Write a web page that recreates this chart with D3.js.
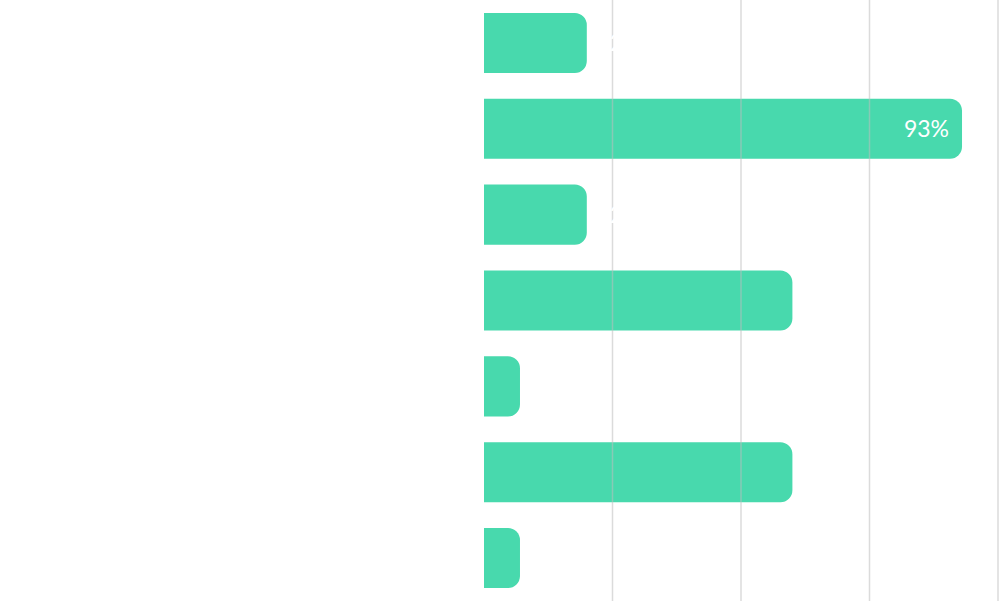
<!DOCTYPE html>
<html>
<head>
<meta charset="utf-8">
<script src="https://cdn.jsdelivr.net/npm/d3@7"></script>
<style>
  html, body { margin: 0; padding: 0; background: #ffffff; }
  svg { display: block; }
</style>
</head>
<body>
<svg id="chart" width="1000" height="601"></svg>
<script>
const categories = [
  "Lack of skilled workers",
  "Digital transformation",
  "Sustainability, environment and regulation",
  "Economic uncertainty",
  "Ongoing COVID-19 impact",
  "Supply chain disruptions",
  "Other"
];
const values = [20, 93, 20, 60, 7, 60, 7];
const gridTicks = [25, 50, 75, 100];

const width = 1000, height = 601;
const svg = d3.select("#chart");

const x = d3.scaleLinear().domain([0, 100]).range([484, 998]);
const y = d3.scaleBand().domain(categories).range([0, height])
  .paddingInner(0.3).paddingOuter(0.15);

const data = categories.map((c, i) => ({ c, v: values[i] }));
const r = 12;

function barPath(d) {
  const x0 = x(0), x1 = x(d.v), y0 = y(d.c), h = y.bandwidth();
  const rr = Math.min(r, (x1 - x0) / 2, h / 2);
  const p = d3.path();
  p.moveTo(x0, y0);
  p.lineTo(x1 - rr, y0);
  p.arcTo(x1, y0, x1, y0 + rr, rr);
  p.lineTo(x1, y0 + h - rr);
  p.arcTo(x1, y0 + h, x1 - rr, y0 + h, rr);
  p.lineTo(x0, y0 + h);
  p.closePath();
  return p.toString();
}

svg.append("g").selectAll("path").data(data).join("path")
  .attr("d", barPath)
  .attr("fill", "#48d9ad");

// gridlines drawn over the bars
svg.append("g").selectAll("line").data(gridTicks).join("line")
  .attr("x1", d => x(d)).attr("x2", d => x(d))
  .attr("y1", 0).attr("y2", height)
  .attr("stroke", "#bdbdbd").attr("stroke-opacity", 0.55).attr("stroke-width", 1.5);

// category labels (white)
svg.append("g").selectAll("text").data(data).join("text")
  .attr("x", 443)
  .attr("y", d => y(d.c) + y.bandwidth() / 2)
  .attr("dy", "0.35em")
  .attr("text-anchor", "end")
  .attr("fill", "#ffffff")
  .style("font-family", "Lato, 'Open Sans', sans-serif")
  .style("font-size", "24px")
  .text(d => d.c);

// value labels
svg.append("g").selectAll("text").data(data).join("text")
  .attr("x", d => d.v > 80 ? x(d.v) - 13 : x(d.v) + 23)
  .attr("y", d => y(d.c) + y.bandwidth() / 2)
  .attr("dy", "0.35em")
  .attr("text-anchor", d => d.v > 80 ? "end" : "start")
  .attr("fill", "#ffffff")
  .style("font-family", "Lato, 'Open Sans', sans-serif")
  .style("font-size", "23px")
  .text(d => d.v + "%");
</script>
</body>
</html>
